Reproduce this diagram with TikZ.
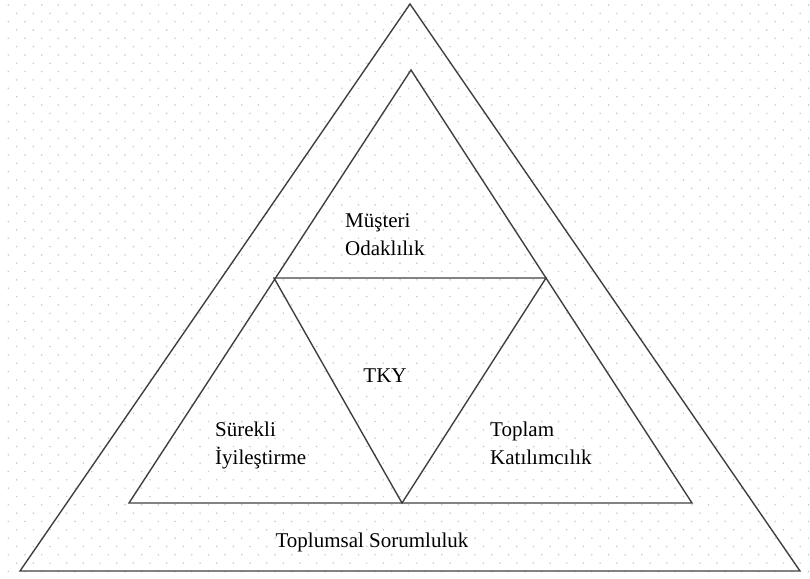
\documentclass[tikz,border=0pt]{standalone}
\usepackage{fontspec}
\setmainfont{Liberation Serif}
\usepackage{tikz}

\tikzset{
  kenar/.style={draw=black!75, line width=1.4pt, line join=miter},
  etiket/.style={inner sep=0pt, align=left, font=\fontsize{21}{27.5}\selectfont},
  nokta/.style={fill=black!22}
}

\begin{document}
\begin{tikzpicture}[x=1pt, y=-1pt]
    \useasboundingbox (0,0) rectangle (810,578);

    % Zemin noktalari
    \foreach \j in {0,...,68} {
      \pgfmathsetmacro\kay{mod(\j,2)*8.33}
      \foreach \k in {0,...,48} {
        \fill[nokta] (8.33+16.67*\k+\kay, 5+8.33*\j) circle (0.85);
      }
    }

    % Koseler
    \coordinate (dTepe) at (410,4);
    \coordinate (dSol) at (20,571);
    \coordinate (dSag) at (800,571);
    \coordinate (iTepe) at (411,70);
    \coordinate (iSol) at (129,503);
    \coordinate (iSag) at (692,503);
    \coordinate (oSol) at (274,278);
    \coordinate (oSag) at (546,278);
    \coordinate (oAlt) at (402,503);

    % Ucgenler
    \draw[kenar] (dTepe) -- (dSag) -- (dSol) -- cycle;
    \draw[kenar] (iTepe) -- (iSag) -- (iSol) -- cycle;
    \draw[kenar] (oSol) -- (oSag) -- (oAlt) -- cycle;

    % Yazilar
    \node[etiket, anchor=base west] (musteri) at (345,255) {Müşteri\\Odaklılık};
    \node[etiket, anchor=base] (tky) at (385,382) {TKY};
    \node[etiket, anchor=base west] (surekli) at (215,464) {Sürekli\\İyileştirme};
    \node[etiket, anchor=base west] (toplam) at (490,464) {Toplam\\Katılımcılık};
    \node[etiket, anchor=base] (toplumsal) at (372,547) {Toplumsal Sorumluluk};
\end{tikzpicture}
\end{document}
